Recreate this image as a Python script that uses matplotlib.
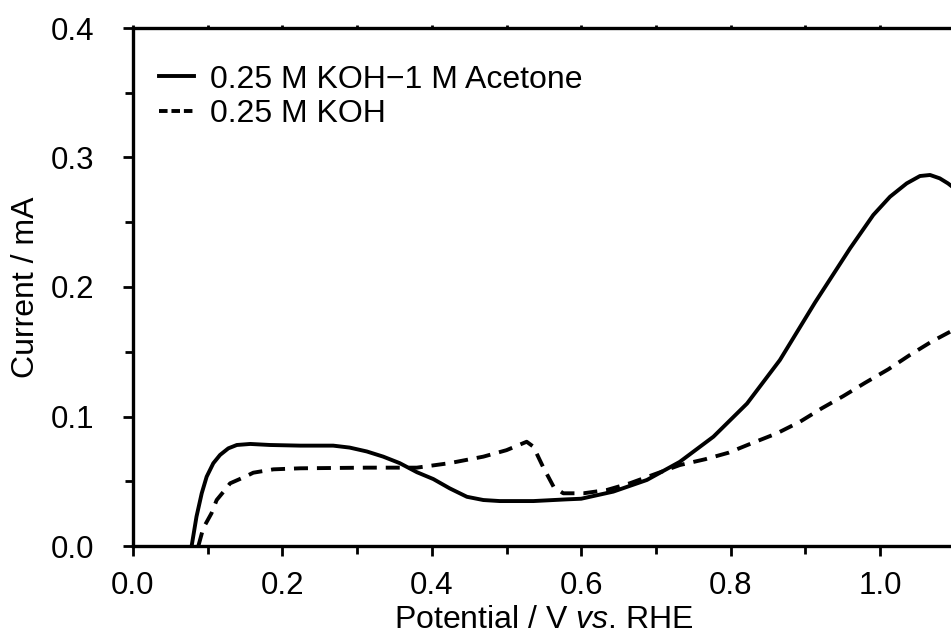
import numpy as np
import matplotlib
matplotlib.use('Agg')
import matplotlib.pyplot as plt
from matplotlib.lines import Line2D
from matplotlib.ticker import MultipleLocator, FormatStrFormatter, NullFormatter

plt.rcParams['font.family'] = ['Liberation Sans', 'DejaVu Sans']
plt.rcParams['mathtext.fontset'] = 'custom'
plt.rcParams['mathtext.rm'] = 'Liberation Sans'
plt.rcParams['mathtext.it'] = 'Liberation Sans:italic'

# 0.25 M KOH - 1 M acetone (solid)
acetone_v = [0.0785, 0.085, 0.092, 0.0986, 0.1075, 0.1165, 0.1276, 0.139, 0.157, 0.1834,
             0.224, 0.268, 0.290, 0.313, 0.335, 0.357, 0.380, 0.402, 0.424, 0.447,
             0.469, 0.491, 0.536, 0.580, 0.600, 0.643, 0.688, 0.732, 0.777, 0.822,
             0.866, 0.913, 0.960, 0.991, 1.0134, 1.0357, 1.0535, 1.067, 1.080, 1.091,
             1.100]
acetone_i = [0.000, 0.0227, 0.0407, 0.0535, 0.0639, 0.0703, 0.0754, 0.078, 0.0788, 0.078,
             0.0775, 0.0775, 0.076, 0.073, 0.069, 0.064, 0.057, 0.0517, 0.0445, 0.038,
             0.0355, 0.0347, 0.0347, 0.036, 0.0365, 0.042, 0.051, 0.065, 0.0844, 0.110,
             0.1436, 0.188, 0.2299, 0.2556, 0.2697, 0.280, 0.2857, 0.2865, 0.2839, 0.280,
             0.276]

# 0.25 M KOH (dashed)
koh_v = [0.0875, 0.094, 0.105, 0.112, 0.123, 0.130, 0.150, 0.161, 0.188, 0.224,
         0.313, 0.380, 0.424, 0.469, 0.500, 0.527, 0.536, 0.549, 0.563, 0.576,
         0.603, 0.634, 0.665, 0.732, 0.766, 0.797, 0.826, 0.862, 0.893, 0.922,
         0.951, 0.980, 1.011, 1.040, 1.069, 1.094]
koh_i = [0.000, 0.0137, 0.0252, 0.0355, 0.0432, 0.0484, 0.0535, 0.0566, 0.0592, 0.060,
         0.0605, 0.0605, 0.064, 0.069, 0.074, 0.0805, 0.0767, 0.061, 0.0458, 0.0407,
         0.0407, 0.0432, 0.0484, 0.0625, 0.067, 0.072, 0.0788, 0.087, 0.096, 0.1063,
         0.1158, 0.126, 0.1364, 0.1475, 0.1578, 0.1655]

labels = ['0.25 M KOH\u22121 M Acetone', '0.25 M KOH']

W, H = 951, 642
fig = plt.figure(figsize=(W/100, H/100), dpi=100)
ax = fig.add_axes([133/W, 1-546/H, (954.7-133)/W, (546-28)/H])

lw = 2.8
ax.plot(acetone_v, acetone_i, color='black', lw=lw, solid_joinstyle='round')
ax.plot(koh_v, koh_i, color='black', lw=lw, linestyle=(0, (3.6, 2.3)))

ax.set_xlim(0, 1.1)
ax.set_ylim(0, 0.4)
ax.xaxis.set_major_locator(MultipleLocator(0.2))
ax.xaxis.set_minor_locator(MultipleLocator(0.1))
ax.yaxis.set_major_locator(MultipleLocator(0.1))
ax.yaxis.set_minor_locator(MultipleLocator(0.05))
ax.xaxis.set_major_formatter(FormatStrFormatter('%.1f'))
ax.yaxis.set_major_formatter(FormatStrFormatter('%.1f'))

for s in ['left', 'bottom', 'top']:
    ax.spines[s].set_linewidth(2.4)
ax.spines['right'].set_visible(False)

ax.tick_params(axis='both', which='major', direction='out', length=7, width=2.0,
               labelsize=22.5)
ax.tick_params(axis='both', which='minor', direction='out', length=5.5, width=2.0)
ax.tick_params(axis='x', which='major', pad=11)
ax.tick_params(axis='y', which='major', pad=21)

# short ticks along the top spine
top = ax.secondary_xaxis('top')
top.xaxis.set_major_locator(MultipleLocator(0.1))
top.xaxis.set_major_formatter(NullFormatter())
top.tick_params(direction='out', length=2, width=2.0)
top.spines['top'].set_visible(False)

ax.set_xlabel('Potential / V $\\mathit{vs}$. RHE', fontsize=23, labelpad=3)
ax.set_ylabel('Current / mA', fontsize=23, labelpad=7)

# legend handles with shorter dashes, as in the original key
handles = [Line2D([], [], color='black', lw=lw),
           Line2D([], [], color='black', lw=lw, linestyle=(0, (2.2, 1.0)))]
ax.legend(handles, labels, loc='upper left', frameon=False, fontsize=23,
          handlelength=1.1, handletextpad=0.5, labelspacing=0.15,
          borderaxespad=0.5, borderpad=0.4, bbox_to_anchor=(-0.003, 0.985))

fig.savefig('out.png', dpi=100)
